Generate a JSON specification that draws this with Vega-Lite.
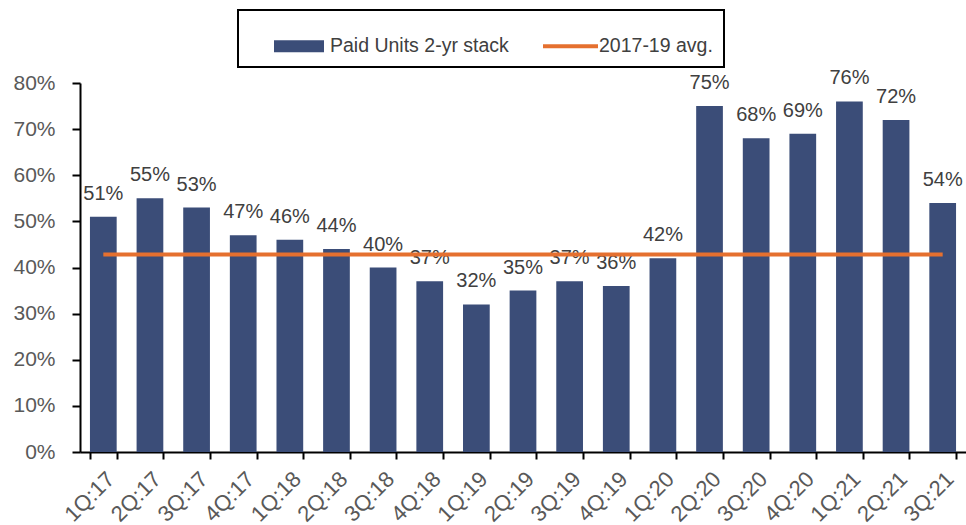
{
  "$schema": "https://vega.github.io/schema/vega-lite/v6.json",
  "autosize": {"type": "none"},
  "width": 886,
  "height": 369,
  "padding": {"left": 80, "top": 83, "right": 0, "bottom": 73},
  "background": "white",
  "config": {
    "view": {"stroke": null},
    "font": "Liberation Sans",
    "axis": {"grid": false, "domainColor": "black", "tickColor": "black", "domainWidth": 2, "tickWidth": 2, "labelColor": "#595959", "labelFontSize": 21, "labelFont": "Liberation Sans", "title": null}
  },
  "data": {"values": [
    {"q": "1Q:17", "v": 0.51, "avg": 0.428},
    {"q": "2Q:17", "v": 0.55, "avg": 0.428},
    {"q": "3Q:17", "v": 0.53, "avg": 0.428},
    {"q": "4Q:17", "v": 0.47, "avg": 0.428},
    {"q": "1Q:18", "v": 0.46, "avg": 0.428},
    {"q": "2Q:18", "v": 0.44, "avg": 0.428},
    {"q": "3Q:18", "v": 0.40, "avg": 0.428},
    {"q": "4Q:18", "v": 0.37, "avg": 0.428},
    {"q": "1Q:19", "v": 0.32, "avg": 0.428},
    {"q": "2Q:19", "v": 0.35, "avg": 0.428},
    {"q": "3Q:19", "v": 0.37, "avg": 0.428},
    {"q": "4Q:19", "v": 0.36, "avg": 0.428},
    {"q": "1Q:20", "v": 0.42, "avg": 0.428},
    {"q": "2Q:20", "v": 0.75, "avg": 0.428},
    {"q": "3Q:20", "v": 0.68, "avg": 0.428},
    {"q": "4Q:20", "v": 0.69, "avg": 0.428},
    {"q": "1Q:21", "v": 0.76, "avg": 0.428},
    {"q": "2Q:21", "v": 0.72, "avg": 0.428},
    {"q": "3Q:21", "v": 0.54, "avg": 0.428}
  ]},
  "encoding": {
    "x": {"field": "q", "type": "nominal", "sort": null,
      "scale": {"paddingInner": 0.427, "paddingOuter": 0.2135},
      "axis": {"labelAngle": -45, "tickBand": "extent", "tickSize": 7, "labelPadding": 9, "labelFontSize": 22}}
  },
  "layer": [
    {
      "mark": {"type": "bar"},
      "encoding": {
        "y": {"field": "v", "type": "quantitative", "scale": {"domain": [0, 0.8]},
          "axis": {"format": ".0%", "values": [0,0.1,0.2,0.3,0.4,0.5,0.6,0.7,0.8], "tickSize": 8, "labelPadding": 17}},
        "color": {"datum": "bars", "type": "nominal",
          "scale": {"domain": ["bars", "avgline"], "range": ["#3B4D78", "#E5702F"]},
          "legend": {
            "title": null, "orient": "none", "direction": "horizontal",
            "legendX": 158, "legendY": -73,
            "strokeColor": "black", "padding": 11,
            "labelFontSize": 19.5, "labelColor": "#404040", "labelFont": "Liberation Sans",
            "labelExpr": "datum.value == 'bars' ? 'Paid Units 2-yr stack' : '2017-19 avg.'",
            "symbolSize": 2500, "symbolStrokeWidth": 0, "labelOffset": 6, "columnPadding": 9,
            "symbolOffset": 25,
            "symbolType": "M-1,-0.24H1V0.24H-1Z",
            "labelLimit": 400,
            "encode": {
              "legend": {"update": {"strokeWidth": {"value": 2}}},
              "symbols": {"update": {"shape": {"signal": "datum.value == 'avgline' ? 'M-1,-0.08H1.2V0.08H-1Z' : 'M-1,-0.24H1V0.24H-1Z'"}}}}
          }}
      }
    },
    {
      "mark": {"type": "text", "baseline": "alphabetic", "dy": -17, "fontSize": 20, "color": "#404040", "font": "Liberation Sans"},
      "encoding": {
        "y": {"field": "v", "type": "quantitative"},
        "text": {"field": "v", "type": "quantitative", "format": ".0%"}
      }
    },
    {
      "mark": {"type": "line", "strokeWidth": 4},
      "encoding": {
        "y": {"field": "avg", "type": "quantitative"},
        "color": {"datum": "avgline", "type": "nominal"}
      }
    }
  ]
}
